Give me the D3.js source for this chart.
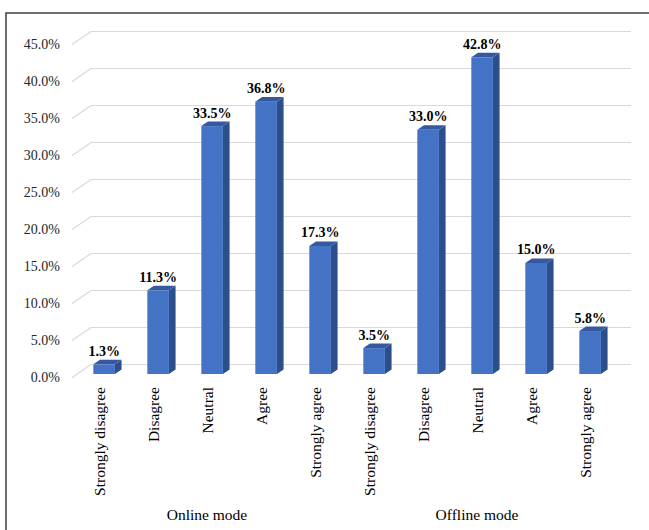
<!DOCTYPE html>
<html><head><meta charset="utf-8">
<script src="https://cdn.jsdelivr.net/npm/d3@7"></script>
<style>body{margin:0;background:#fff}svg{display:block}</style>
</head><body>
<svg id="c" width="649" height="530"></svg>
<script>
const categories = ["Strongly disagree","Disagree","Neutral","Agree","Strongly agree",
                    "Strongly disagree","Disagree","Neutral","Agree","Strongly agree"];
const groups = ["Online mode","Offline mode"];
const groupOf = [0,0,0,0,0,1,1,1,1,1];
const values = [1.3, 11.3, 33.5, 36.8, 17.3, 3.5, 33.0, 42.8, 15.0, 5.8];
const yTicks = [0,5,10,15,20,25,30,35,40,45];

const svg = d3.select("#c");
const serif = "'Liberation Serif','Times New Roman',serif";

// depth offset of back wall
const DX = 19, DY = -13;
const x = d3.scaleBand().domain(d3.range(categories.length)).range([72, 612]).padding(0);
const y = d3.scaleLinear().domain([0, 45]).range([377.5, 44.5]);

// frame
svg.append("rect").attr("x", 6).attr("y", 13).attr("width", 660).attr("height", 540)
  .attr("fill","none").attr("stroke","#404040").attr("stroke-width",1.5);

// gridlines (back wall + left side diagonal)
const g = svg.append("g").attr("stroke","#d9d9d9").attr("stroke-width",1.2).attr("fill","none");
yTicks.forEach(t => {
  const yf = y(t);
  g.append("path").attr("d",
    `M${x.range()[0]},${yf} L${x.range()[0]+DX},${yf+DY} L${x.range()[1]+DX},${yf+DY}`);
});

// y tick labels
svg.append("g").selectAll("text").data(yTicks).join("text")
  .attr("x", 60).attr("y", d => y(d)).attr("dy","0.35em")
  .attr("text-anchor","end").attr("font-family", serif).attr("font-size", 14)
  .attr("fill","#262626")
  .text(d => d3.format(".1f")(d) + "%");

// bars (3D)
const d1 = 0.27, d2 = 0.62;
const bw = x.bandwidth() * 0.4;
const bars = svg.append("g");
values.forEach((v, i) => {
  const cx = x(i) + x.bandwidth()/2;
  const fx0 = cx - bw/2 + DX*d1, fx1 = cx + bw/2 + DX*d1;
  const fyb = y(0) + DY*d1, fyt = y(v) + DY*d1;
  const ox = DX*(d2-d1), oy = DY*(d2-d1);
  bars.append("path").attr("fill","#2c4f8c")
    .attr("d", `M${fx1},${fyb} L${fx1+ox},${fyb+oy} L${fx1+ox},${fyt+oy} L${fx1},${fyt} Z`);
  bars.append("path").attr("fill","#35599e")
    .attr("d", `M${fx0},${fyt} L${fx1},${fyt} L${fx1+ox},${fyt+oy} L${fx0+ox},${fyt+oy} Z`);
  bars.append("rect").attr("x", fx0).attr("y", fyt).attr("width", bw).attr("height", fyb-fyt)
    .attr("fill","#4472c4");
  bars.append("text").attr("x", (fx0+fx1)/2).attr("y", fyt + oy - 4)
    .attr("text-anchor","middle").attr("font-family", serif).attr("font-weight","bold")
    .attr("font-size", 14).attr("fill","#000")
    .text(d3.format(".1f")(v) + "%");
});

// category labels (rotated)
svg.append("g").selectAll("text").data(categories).join("text")
  .attr("transform", (d,i) => `translate(${x(i)+x.bandwidth()/2+6},387) rotate(-90)`)
  .attr("text-anchor","end").attr("font-family", serif).attr("font-size", 15.5)
  .attr("fill","#000")
  .text(d => d);

// group labels
svg.append("g").selectAll("text").data(groups).join("text")
  .attr("x", (d,gi) => d3.mean(d3.range(categories.length).filter(i => groupOf[i]===gi), i => x(i)+x.bandwidth()/2))
  .attr("y", 520).attr("text-anchor","middle")
  .attr("font-family", serif).attr("font-size", 15.5).attr("fill","#000")
  .text(d => d);
</script>
</body></html>
